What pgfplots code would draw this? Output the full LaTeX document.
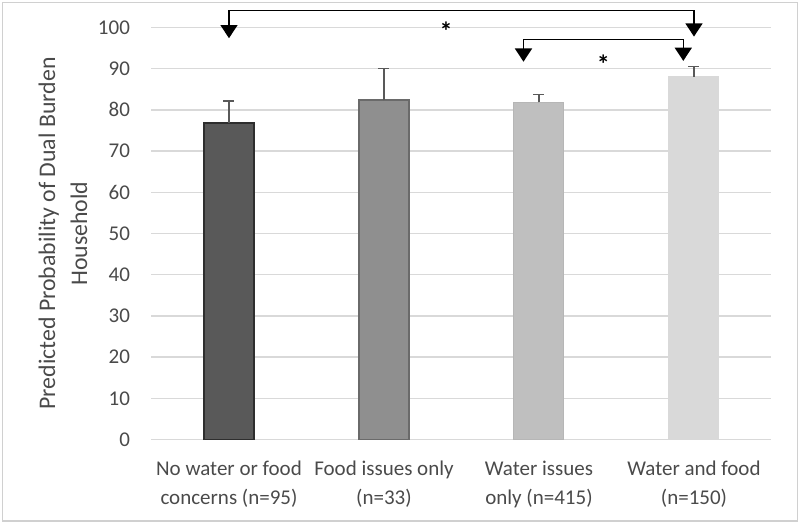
\documentclass[border=0pt]{standalone}
\usepackage{fontspec}
\setmainfont{Carlito}
\usepackage{pgfplots}
\pgfplotsset{compat=1.18}
\usetikzlibrary{arrows.meta}
\definecolor{cA}{HTML}{595959}
\definecolor{cAb}{HTML}{2E2E2E}
\definecolor{cB}{HTML}{8F8F8F}
\definecolor{cBb}{HTML}{6A6A6A}
\definecolor{cC}{HTML}{BFBFBF}
\definecolor{cCb}{HTML}{B6B6B6}
\definecolor{cD}{HTML}{D9D9D9}
\definecolor{errcol}{HTML}{595959}
\definecolor{gridgray}{HTML}{D9D9D9}
\definecolor{bordergray}{HTML}{D0D0D0}
\definecolor{txt}{HTML}{4A4A4A}
\pgfplotsset{myerr/.style={error bars/.cd, y dir=plus, y explicit, error mark=|, error bar style={errcol, line width=0.75pt}, error mark options={errcol, line width=0.75pt, mark size=2.75pt}}}
\begin{document}
\begin{tikzpicture}
\path[use as bounding box] (-75.75pt,-42.25pt) rectangle (324.25pt,219.75pt);
\draw[color=bordergray, line width=0.75pt] (-74.5pt,-40.75pt) rectangle (323pt,218.5pt);
\begin{axis}[
  at={(0,0)}, anchor=south west,
  scale only axis, width=310pt, height=206pt,
  xmin=-0.5, xmax=3.5, ymin=0, ymax=100,
  clip=false,
  axis line style={draw=none},
  major tick length=0pt,
  ymajorgrids,
  grid style={gridgray, line width=0.75pt},
  ytick={0,10,...,100},
  xtick={0,1,2,3},
  xticklabels={{No water or food\\concerns (n=95)},{Food issues only\\(n=33)},{Water issues\\only (n=415)},{Water and food\\(n=150)}},
  xticklabel style={align=center, font=\fontsize{10.5}{14.5}\selectfont, text=txt, yshift=-7pt},
  yticklabel style={font=\fontsize{10.5}{12}\selectfont, text=txt, xshift=-7.25pt},
  /pgf/number format/assume math mode=true,
  ylabel={Predicted Probability of Dual Burden\\Household},
  every axis y label/.style={at={(axis description cs:-0.1427,0.5)}, anchor=center, rotate=90, align=center, font=\fontsize{11.9}{16}\selectfont, text=txt},
]
\addplot[ybar, bar width=25pt, bar shift=0pt, fill=cA, draw=cAb, line width=0.75pt, myerr]
  coordinates {(0,76.8) +- (0,5.3)};
\addplot[ybar, bar width=25pt, bar shift=0pt, fill=cB, draw=cBb, line width=0.75pt, myerr]
  coordinates {(1,82.4) +- (0,7.7)};
\addplot[ybar, bar width=25pt, bar shift=0pt, fill=cC, draw=cCb, line width=0.5pt, myerr]
  coordinates {(2,81.8) +- (0,1.9)};
\addplot[ybar, bar width=25pt, bar shift=0pt, fill=cD, draw=cD, line width=0.5pt, myerr]
  coordinates {(3,88.0) +- (0,2.5)};
\addplot[black, line width=0.75pt, {Triangle[width=8.5pt,length=6.6pt]}-{Triangle[width=8.5pt,length=6.6pt]}]
  coordinates {(0,97.4) (0,104.1) (3,104.1) (3,97.8)};
\addplot[black, line width=0.75pt, {Triangle[width=8.5pt,length=6.6pt]}-{Triangle[width=8.5pt,length=6.6pt]}]
  coordinates {(1.9,91.7) (1.9,97.1) (2.931,97.1) (2.931,91.9)};
\node[font=\fontsize{13}{13}\selectfont\bfseries] at (axis cs:1.40,99.2) {*};
\node[font=\fontsize{13}{13}\selectfont\bfseries] at (axis cs:2.415,91.2) {*};
\end{axis}
\end{tikzpicture}
\end{document}
